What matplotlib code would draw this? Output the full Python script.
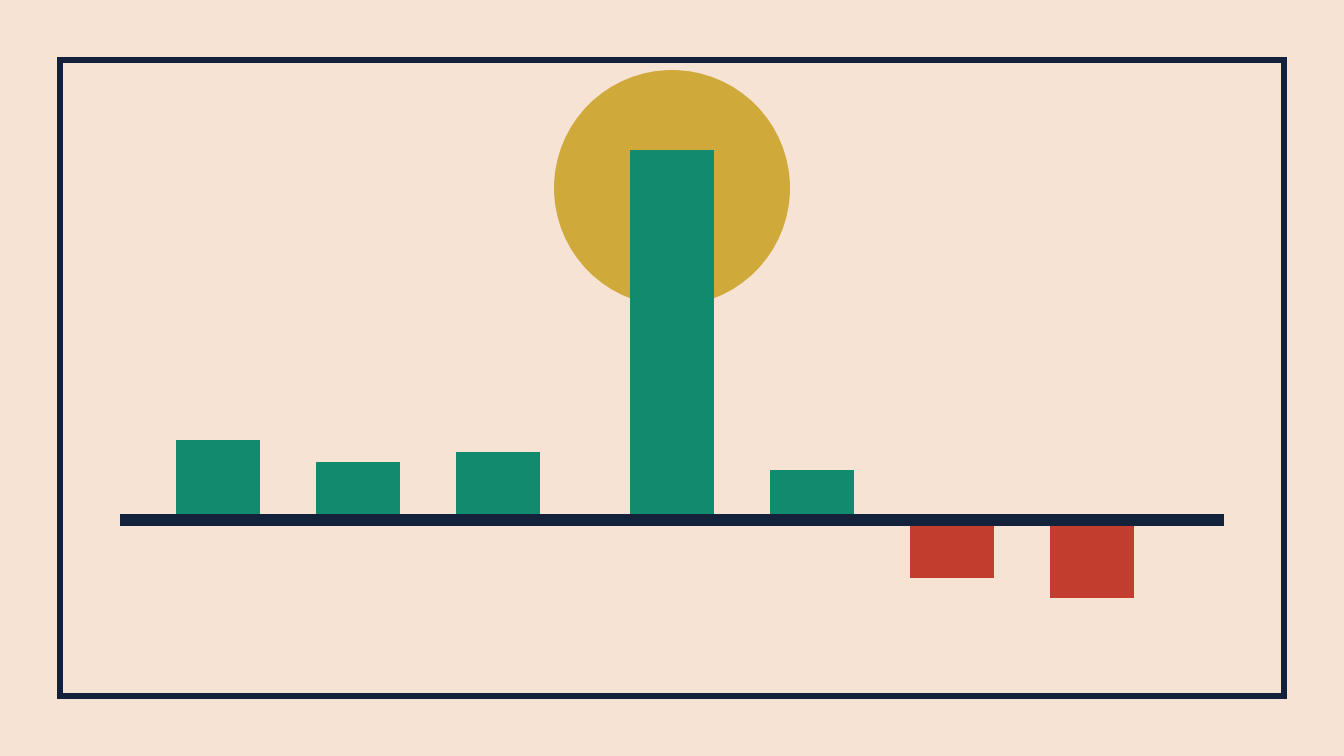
import numpy as np
import matplotlib
matplotlib.use("Agg")
import matplotlib.pyplot as plt
from matplotlib.patches import Ellipse, Rectangle

# data (bar heights, arbitrary units; one unit = 10 px on the canvas)
categories = ["A", "B", "C", "D", "E", "F", "G"]
values = [8.0, 5.8, 6.8, 37.0, 5.0, -5.8, -7.8]
highlight = "D"

BG, NAVY = "#F7E3D4", "#13213B"
GREEN, RED, GOLD = "#108B6E", "#C33D2F", "#CFA93A"

W, H, DPI = 1344, 756, 100
fig = plt.figure(figsize=(W / DPI, H / DPI), dpi=DPI, facecolor=BG)
ax = fig.add_axes([0, 0, 1, 1])
ax.set_facecolor(BG)
ax.axis("off")

# bar slots: 140 px apart, with a wider gap before the highlighted bar
idx = np.arange(len(categories))
hi = categories.index(highlight)
pos = idx + np.where(idx >= hi, 34 / 140, 0.0)

# axis limits so that slot 0 sits at x=218 px and zero at y=520 px
ax.set_xlim(-218 / 140, (W - 218) / 140)
ax.set_ylim(-(H - 520) / 10, 520 / 10)

# sun behind the highlighted bar
ax.add_patch(Ellipse((pos[hi], values[hi] - 3.8), 2 * 118 / 140, 23.6,
                     facecolor=GOLD, edgecolor="none", zorder=1))

colors = [GREEN if v >= 0 else RED for v in values]
ax.bar(pos, values, width=0.6, color=colors, zorder=2)

# baseline
ax.plot([(120 - 218) / 140, (1224 - 218) / 140], [0, 0], color=NAVY,
        lw=12 * 72 / DPI, solid_capstyle="butt", zorder=3)

# frame
fig.patches.append(Rectangle((60 / W, 1 - 696 / H), 1224 / W, 636 / H,
                             transform=fig.transFigure, fill=False,
                             edgecolor=NAVY, lw=6 * 72 / DPI, zorder=4))

fig.savefig("out.png", dpi=DPI, facecolor=BG)
